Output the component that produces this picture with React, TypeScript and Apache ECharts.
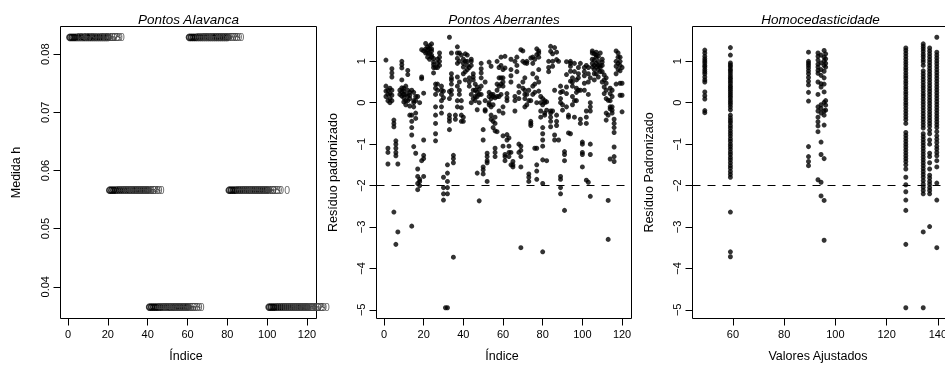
import React, { useEffect, useRef } from "react";
import * as echarts from "echarts";

const FONT = '"Liberation Sans", Arial, Helvetica, sans-serif';

// ---------- Panel 1: Pontos Alavanca (leverage h by observation index) ----------
const leverageIndex = [
  1, 2, 3, 4, 5, 6, 7, 8, 9, 10, 11, 12, 13, 14, 15, 16, 17, 18, 19, 20,
  21, 22, 23, 24, 25, 26, 27, 28, 29, 30, 31, 32, 33, 34, 35, 36, 37, 38, 39, 40,
  41, 42, 43, 44, 45, 46, 47, 48, 49, 50, 51, 52, 53, 54, 55, 56, 57, 58, 59, 60,
  61, 62, 63, 64, 65, 66, 67, 68, 69, 70, 71, 72, 73, 74, 75, 76, 77, 78, 79, 80,
  81, 82, 83, 84, 85, 86, 87, 88, 89, 90, 91, 92, 93, 94, 95, 96, 97, 98, 99, 100,
  101, 102, 103, 104, 105, 106, 107, 108, 109, 110, 111, 112, 113, 114, 115, 116, 117, 118, 119, 120,
];
const leverageH = [
  0.0829, 0.0829, 0.0829, 0.0829, 0.0829, 0.0829, 0.0829, 0.0829, 0.0829, 0.0829, 0.0829, 0.0829, 0.0829, 0.0829, 0.0829, 0.0829, 0.0829, 0.0829, 0.0829, 0.0829,
  0.0566, 0.0566, 0.0566, 0.0566, 0.0566, 0.0566, 0.0566, 0.0566, 0.0566, 0.0566, 0.0566, 0.0566, 0.0566, 0.0566, 0.0566, 0.0566, 0.0566, 0.0566, 0.0566, 0.0566,
  0.0365, 0.0365, 0.0365, 0.0365, 0.0365, 0.0365, 0.0365, 0.0365, 0.0365, 0.0365, 0.0365, 0.0365, 0.0365, 0.0365, 0.0365, 0.0365, 0.0365, 0.0365, 0.0365, 0.0365,
  0.0829, 0.0829, 0.0829, 0.0829, 0.0829, 0.0829, 0.0829, 0.0829, 0.0829, 0.0829, 0.0829, 0.0829, 0.0829, 0.0829, 0.0829, 0.0829, 0.0829, 0.0829, 0.0829, 0.0829,
  0.0566, 0.0566, 0.0566, 0.0566, 0.0566, 0.0566, 0.0566, 0.0566, 0.0566, 0.0566, 0.0566, 0.0566, 0.0566, 0.0566, 0.0566, 0.0566, 0.0566, 0.0566, 0.0566, 0.0566,
  0.0365, 0.0365, 0.0365, 0.0365, 0.0365, 0.0365, 0.0365, 0.0365, 0.0365, 0.0365, 0.0365, 0.0365, 0.0365, 0.0365, 0.0365, 0.0365, 0.0365, 0.0365, 0.0365, 0.0365,
];
const leverageXTicks = [0, 20, 40, 60, 80, 100, 120];
const leverageYTicks = [0.04, 0.05, 0.06, 0.07, 0.08];

// ---------- Panel 2: Pontos Aberrantes (standardized residual by index) ----------
const residIdxA = [
  [1, 1.03], [1, 0.4], [1, 0.28], [1, 0.15], [2, 0.05], [2, 0.3], [2, 0.2], [2, -1.1], [2, -1.2], [2, -1.48],
  [3, 0.1], [3, 0.22], [3, 0.35], [3, 0.0], [4, 0.82], [4, 0.72], [4, 0.62], [4, 0.3], [4, 0.18], [4, 0.05],
  [5, -0.42], [5, -0.5], [5, -0.58], [5, -2.64],
  [6, -0.92], [6, -1.0], [6, -1.1], [6, -1.2], [6, -1.28], [6, -3.42],
  [7, -1.48], [7, -3.12], [8, 0.2], [8, 0.3],
  [9, 1.0], [9, 0.92], [9, 0.84], [9, 0.36], [9, 0.26], [9, 0.16], [9, 0.55],
  [10, 0.28], [10, 0.12], [10, 0.02], [10, 0.35], [10, 0.2], [11, 0.4], [11, 0.2], [11, 0.05], [11, -0.05],
  [12, 0.78], [12, 0.68], [12, 0.3], [12, 0.16], [12, 0.05],
  [13, -0.08], [13, -0.3], [13, 0.25], [13, 0.1], [13, 0.18],
  [14, -0.6], [14, -0.78], [14, -0.45], [14, -2.98], [14, 0.3], [14, -0.3],
  [15, -1.06], [15, 0.25], [15, 0.05], [15, -0.1], [15, 0.0],
  [16, 0.05], [16, -0.25], [16, -0.38], [16, -1.22], [16, 0.15],
  [17, -1.6], [17, -1.78], [17, -1.95], [17, -2.1], [17, 0.15],
  [18, -1.9], [18, -2.0], [18, -1.85], [18, 0.0],
  [19, -1.4], [19, 0.62], [19, 1.28], [19, 0.58],
  [20, 0.23], [20, -0.9], [20, -1.27], [20, -1.35], [20, -1.78], [20, 1.25],
  [21, 1.43], [21, 1.3], [21, 1.2], [22, 1.35], [22, 1.1], [22, 1.2], [22, 1.28], [23, 1.3], [23, 1.19], [23, 1.05], [23, 1.38],
  [24, 1.42], [24, 1.1], [24, 1.25], [24, 1.15], [24, 1.3],
  [25, 1.07], [25, 0.98], [25, 0.85], [25, 0.72], [25, 0.92],
  [26, -0.1], [26, -0.3], [26, -0.5], [26, -0.75], [26, -0.92], [26, 0.85], [26, 0.45], [26, 0.35], [26, 0.2],
  [27, 0.95], [27, 0.85], [27, 0.45], [27, 0.3], [27, 1.05],
  [28, 1.2], [28, 1.1], [28, 1.0], [28, 0.9],
  [29, 0.4], [29, 0.2], [29, 0.05], [29, -0.25], [29, 0.3], [29, -0.1],
  [30, -1.8], [30, -2.05], [30, -2.2], [30, -2.35], [30, 0.28], [30, 0.12],
];
const residIdxB = [
  [31, -4.95], [32, -4.95],
  [32, -1.5], [32, -1.7], [32, -1.9], [32, -2.2], [32, -2.05],
  [33, 1.58], [33, -0.3], [33, -0.45], [33, -0.65], [33, -0.38], [33, 0.27], [33, 0.1],
  [34, 1.2], [34, 0.7], [34, 0.55], [34, 0.45], [34, 0.3], [34, 0.2], [34, 0.6],
  [35, -1.27], [35, -1.35], [35, -1.45], [35, -3.73],
  [36, -0.4], [36, -0.3], [37, 1.35], [37, 1.2], [37, 1.07], [37, 0.62], [37, 0.4], [37, 0.05], [37, -0.1], [37, 0.95],
  [38, 0.5], [38, 0.3], [38, 0.2], [38, 1.2], [38, 1.0], [39, 0.05], [39, -0.12], [39, 1.15], [39, -0.3], [39, -0.45],
  [40, 0.86], [40, 0.7], [40, -0.35], [40, -0.45], [40, 1.05], [40, 0.95],
  [41, 1.18], [41, 1.0], [41, 0.75], [41, 0.55],
  [42, 1.0], [42, 0.8], [42, 1.15], [42, 0.9],
  [43, 0.6], [43, 0.4], [43, 0.5], [43, 0.85],
  [44, 1.0], [44, 0.9], [44, 0.2], [44, 0.0], [44, 1.05],
  [45, 0.7], [45, 0.55], [45, 0.62], [45, 0.3], [45, 0.1],
  [46, 0.45], [46, 0.15], [46, 0.3], [46, 0.05],
  [47, 0.38], [47, 0.15], [47, -1.7], [47, 0.25], [47, -0.17],
  [48, 0.2], [48, 0.0], [48, -2.37], [48, 0.32],
  [49, 0.95], [49, 0.72], [49, 0.4], [49, 0.2], [49, 0.82], [49, 0.6],
  [50, -0.65], [50, -0.9], [50, -1.55], [50, -1.72], [50, -1.62],
  [51, -0.2], [51, 0.5], [51, 0.05], [51, -0.17],
  [52, -1.22], [52, -1.45], [52, -1.9], [52, -1.3], [52, -1.4],
  [53, 0.98], [53, 0.15], [53, 0.0], [53, -0.05], [53, 0.25],
  [54, 0.88], [54, -0.1], [54, -0.4], [54, -0.3], [54, 0.1], [54, 0.2],
  [55, 0.15], [55, -0.6], [55, 0.2], [55, -0.05], [55, -0.45],
  [56, -0.35], [56, -1.1], [56, -1.3], [56, -1.2], [56, 0.12], [56, -0.5], [56, -0.68],
  [57, 0.15], [57, 0.45], [57, 0.3], [57, -0.7], [57, 1.0],
  [58, 0.6], [58, 0.15], [58, -0.2], [58, 0.4], [58, 0.85],
  [59, 1.1], [59, 0.9], [59, 0.2], [59, 0.6], [59, 0.45],
  [60, 0.8], [60, 0.6], [60, 0.4], [60, -0.8], [60, -1.05], [60, 0.5], [60, -0.1], [60, -0.25],
];
const residIdxC = [
  [61, -1.25], [61, -1.4], [61, -1.3], [61, 1.12], [61, 0.84],
  [62, 0.22], [62, 0.05], [62, 0.12], [62, -0.77], [62, -0.9],
  [63, -1.05], [63, -1.3], [63, -0.85], [63, -1.2],
  [64, 1.05], [64, 0.8], [64, 0.5], [64, 0.65], [64, -1.2], [64, -1.5],
  [65, -1.42], [65, -1.55], [65, -1.5],
  [66, 0.15], [66, -0.2], [66, 0.05], [66, 1.0],
  [67, 1.1], [67, 0.9], [67, 0.75],
  [68, 0.4], [68, 0.1], [68, 0.25], [68, -1.0], [68, -1.2],
  [69, -1.05], [69, -1.3], [69, -1.55], [69, -1.15], [69, -3.5], [69, 1.28],
  [70, 1.25], [70, 1.0], [70, 0.5], [70, 0.35],
  [71, 0.6], [71, 0.3], [71, 0.1], [71, -0.1], [71, 0.2], [71, 0.96],
  [72, 1.0], [72, 0.95], [72, 0.2], [72, -0.05],
  [73, 0.3], [73, 0.05], [73, -1.72], [73, -1.9], [73, -1.8],
  [74, -0.45], [74, -0.5], [74, -0.55], [74, 1.08], [74, 0.05],
  [75, 0.7], [75, 0.4], [75, 0.2], [75, 1.1], [75, 0.95],
  [76, 0.45], [76, 0.25], [76, 1.05], [76, -1.1],
  [77, 0.0], [77, -1.1], [77, -1.5], [77, -1.65], [77, -1.85], [77, 1.3], [77, 1.16], [77, 0.6],
  [78, 1.25], [78, 1.1], [78, 1.2], [78, 0.8], [78, 0.5], [78, 0.28],
  [79, 0.15], [79, 0.0], [79, -0.2], [79, -0.35],
  [80, -1.95], [80, -0.6], [80, -0.9], [80, -1.05], [80, -3.6], [80, -0.75], [80, 0.1], [80, -0.05], [80, -1.38],
  [81, 0.05], [81, -0.25], [81, -0.3], [81, 0.0],
  [82, -1.4], [82, -0.18], [82, 0.02],
  [83, 1.0], [83, 0.75], [83, 0.85],
  [84, -0.2], [84, -0.35], [84, -0.58], [84, -0.25], [84, 1.36], [84, 1.24], [84, -0.45],
  [85, 1.18], [85, 0.88], [85, 1.0], [85, -0.2],
  [86, 1.33], [86, 0.3], [86, -0.78], [86, -0.9],
  [87, 1.22], [87, -0.3], [87, -0.55], [87, -0.45], [87, 1.04],
  [88, 1.0], [88, -0.9],
  [89, 0.4], [89, 0.1], [89, 0.25], [89, -1.78], [89, -2.05], [89, -2.2], [89, -1.85], [89, 0.0],
  [90, -0.18], [90, -0.05], [90, 0.27],
];
const residIdxD = [
  [91, -1.18], [91, -1.4], [91, -2.6], [91, -1.25],
  [92, 0.22], [92, -0.1], [92, 0.38], [92, 0.99], [92, 0.68],
  [93, -0.35], [93, -0.3], [93, -0.73],
  [94, 1.0], [94, 0.88], [94, 0.95], [94, -0.75], [94, 0.76], [94, 0.52],
  [95, 0.6], [95, 0.4], [95, 0.5], [95, 0.15], [95, -0.05],
  [96, 0.95], [96, -0.35], [96, 0.05], [96, 0.75],
  [97, 0.55], [97, 0.25], [97, 0.35], [97, 0.05],
  [98, 0.85], [98, 0.6], [98, 0.7], [98, 0.3],
  [99, 0.95], [99, -0.5], [99, -0.4], [99, 0.3],
  [100, -1.0], [100, -1.2], [100, -1.25], [100, -1.55], [100, -0.95],
  [101, 0.85], [101, 0.65], [101, 0.47], [101, 0.75], [101, 0.3],
  [102, -1.87], [102, -0.2], [102, -0.5], [102, -0.35], [102, 0.9],
  [103, 0.85], [103, 0.7], [103, 0.5], [103, -1.92], [103, 0.2],
  [104, -1.0], [104, -1.25], [104, -2.26], [104, 0.0], [104, -0.2], [104, -0.1], [104, 0.6],
  [105, 1.25], [105, 1.05], [105, 0.86], [105, 1.2], [105, 0.95],
  [106, 0.7], [106, 0.55], [106, 1.18], [106, 1.03], [106, 0.8], [106, 0.9],
  [107, 0.86], [107, 0.7], [107, 1.1], [107, 0.95], [107, 1.15], [107, 1.22],
  [108, 0.8], [108, 0.62], [108, 0.9], [108, 1.0], [108, 1.12],
  [109, 0.9], [109, 0.75], [109, 0.85], [109, 1.2],
  [110, 0.98], [110, 0.75], [110, 0.9], [110, 0.5], [110, 1.05],
  [111, 0.55], [111, 0.38], [111, 0.22], [111, 0.67],
  [112, -0.25], [112, -0.42], [112, 0.47], [112, 0.1], [112, 0.3], [112, 0.6],
  [113, -2.36], [113, -3.3], [113, -0.3], [113, 0.06],
  [114, 0.22], [114, -0.15], [114, 0.35], [114, 0.05], [114, -1.36], [114, -0.1],
  [115, 0.15], [115, -0.1], [115, -0.18], [115, 0.3], [115, -0.25],
  [116, -1.07], [116, -1.3], [116, -1.42], [116, -0.4], [116, -0.6], [116, -0.72], [116, -0.5],
  [117, 1.25], [117, 1.0], [117, 0.88], [117, 0.7], [117, 0.45],
  [118, 0.8], [118, 0.95], [118, 1.2], [118, 1.1],
  [119, 1.1], [119, 0.47], [119, 0.18], [119, 0.9], [119, 1.0], [119, 0.77],
  [120, -0.22], [120, 0.47], [120, 0.18], [120, 0.85],
];
const residXTicks = [0, 20, 40, 60, 80, 100, 120];
const residYTicks = [-5, -4, -3, -2, -1, 0, 1];

// ---------- Panel 3: Homocedasticidade (standardized residual by fitted value) ----------
const fittedLevels = [49, 59, 89.5, 93.2, 94.4, 95.6, 96.2, 127.5, 134.3, 136.8, 139.6];
const residAt49 = [1.27, 1.2, 1.12, 1.06, 1.01, 0.96, 0.9, 0.86, 0.8, 0.75, 0.7, 0.62, 0.55, 0.5, 0.26, 0.17, 0.09, -0.19, -0.24];
const residAt59 = [1.33, 1.15, 0.96, 0.91, 0.87, 0.81, 0.77, 0.72, 0.66, 0.61, 0.57, 0.52, 0.47, 0.41, 0.37, 0.32, 0.27, 0.22, 0.17, 0.12, 0.06, 0.01, -0.04, -0.1, -0.17, -0.3, -0.37, -0.43, -0.48, -0.55, -0.61, -0.68, -0.74, -0.8, -0.87, -0.93, -1.0, -1.06, -1.12, -1.19, -1.25, -1.32, -1.38, -1.45, -1.52, -1.58, -1.66, -1.73, -1.8, -2.64, -3.6, -3.72];
const residAt89 = [1.22, 1.0, 0.95, 0.9, 0.84, 0.77, 0.7, 0.61, 0.52, 0.43, 0.25, 0.04, -1.06, -1.3, -1.42, -1.52];
const residAt93 = [1.2, 1.12, 1.03, 0.93, 0.86, 0.78, 0.71, 0.5, 0.2, -0.1, -0.2, -0.35, -0.46, -0.56, -0.7, -1.86];
const residAt94 = [1.15, 0.96, 0.8, 0.66, 0.46, 0.38, -0.05, -0.14, -0.25, -0.95, -1.25, -1.92, -2.25];
const residAt95 = [1.26, 1.1, 1.01, 0.9, 0.76, 0.6, 0.45, 0.26, 0.01, -0.2, -0.3, -0.54, -1.35, -2.36, -3.32];
const residAt96 = [1.18, 1.06, 0.95, 0.86, 0.05, -0.06, -0.18];
const residAt127 = [1.32, 1.26, 1.19, 1.12, 1.05, 0.98, 0.92, 0.85, 0.79, 0.72, 0.65, 0.59, 0.52, 0.46, 0.39, 0.33, 0.26, 0.2, 0.13, 0.07, 0.0, -0.06, -0.13, -0.2, -0.27, -0.34, -0.41, -0.5, -0.72, -0.79, -0.86, -0.93, -1.0, -1.07, -1.14, -1.21, -1.28, -1.35, -1.42, -1.5, -1.6, -1.8, -1.98, -2.15, -2.35, -2.6, -3.42, -4.95];
const residAt134 = [1.42, 1.36, 1.3, 1.24, 1.17, 1.11, 1.04, 0.98, 0.9, 0.77, 0.7, 0.63, 0.56, 0.49, 0.42, 0.36, 0.29, 0.22, 0.16, 0.09, 0.02, -0.05, -0.12, -0.19, -0.26, -0.33, -0.4, -0.47, -0.54, -0.61, -0.75, -0.82, -0.89, -0.96, -1.03, -1.1, -1.17, -1.24, -1.31, -1.38, -1.45, -1.52, -1.59, -1.66, -1.73, -1.8, -1.88, -1.96, -2.04, -2.12, -2.2, -3.12, -4.95];
const residAt137 = [1.32, 1.25, 1.18, 1.11, 1.04, 0.97, 0.9, 0.83, 0.76, 0.69, 0.62, 0.55, 0.48, 0.41, 0.34, 0.27, 0.2, 0.13, 0.06, -0.01, -0.08, -0.15, -0.22, -0.29, -0.36, -0.43, -0.5, -0.57, -0.66, -0.75, -0.9, -1.0, -1.22, -1.3, -1.45, -1.6, -1.75, -1.82, -1.9, -1.97, -2.05, -2.12, -2.2, -2.99];
const residAt140 = [1.58, 1.22, 1.15, 1.08, 1.01, 0.94, 0.87, 0.8, 0.73, 0.66, 0.59, 0.52, 0.45, 0.38, 0.31, 0.24, 0.17, 0.1, 0.03, -0.04, -0.11, -0.18, -0.25, -0.32, -0.39, -0.46, -0.53, -0.6, -0.7, -0.8, -0.88, -0.96, -1.05, -1.12, -1.2, -1.28, -1.4, -1.55, -1.94, -2.35, -3.5];
const residByFitted = [residAt49, residAt59, residAt89, residAt93, residAt94, residAt95, residAt96, residAt127, residAt134, residAt137, residAt140];
const fittedXTicks = [60, 80, 100, 120, 140];

const minusFmt = (v: number) => (v < 0 ? "\u2212" + Math.abs(v) : String(v));

function buildOption() {
  const gridTop = 26.5;
  const gridH = 292;
  const grids = [
    { left: 60.5, top: gridTop, width: 256, height: gridH },
    { left: 376.5, top: gridTop, width: 255, height: gridH },
    { left: 692.5, top: gridTop, width: 256, height: gridH },
  ];
  const tickStyle = { color: "#000", width: 1 };
  const xAxisBase = (i: number, min: number, max: number, ticks: number[]) => ({
    type: "value",
    gridIndex: i,
    min,
    max,
    axisLine: { show: false, onZero: false },
    axisTick: { show: true, length: 7, customValues: ticks, lineStyle: tickStyle },
    axisLabel: { customValues: ticks, color: "#000", fontSize: 11, fontFamily: FONT, margin: 10 },
    splitLine: { show: false },
  });
  const yAxisBase = (i: number, min: number, max: number, ticks: number[], fmt: (v: number) => string) => ({
    type: "value",
    gridIndex: i,
    min,
    max,
    axisLine: { show: false, onZero: false },
    axisTick: { show: true, length: 7, customValues: ticks, lineStyle: tickStyle },
    axisLabel: { customValues: ticks, color: "#000", fontSize: 11, fontFamily: FONT, margin: 10, rotate: 90, formatter: fmt },
    splitLine: { show: false },
  });

  const dashLine = {
    silent: true,
    symbol: ["none", "none"],
    label: { show: false },
    lineStyle: { color: "#000", width: 1, type: [8, 7] },
    data: [{ yAxis: -2 }],
  };

  const resIdxData = [...residIdxA, ...residIdxB, ...residIdxC, ...residIdxD];
  const resFitData: number[][] = [];
  fittedLevels.forEach((f, k) => residByFitted[k].forEach((r) => resFitData.push([f, r])));

  const titleStyle = (text: string, x: number) => ({
    type: "text",
    x,
    y: 26,
    silent: true,
    style: { text, fill: "#000", font: `italic 13.5px ${FONT}`, textAlign: "center", textVerticalAlign: "bottom", verticalAlign: "bottom" },
  });
  const xName = (text: string, x: number) => ({
    type: "text",
    x,
    y: 356,
    silent: true,
    style: { text, fill: "#000", font: `12.5px ${FONT}`, textAlign: "center", textVerticalAlign: "middle", verticalAlign: "middle" },
  });
  const yName = (text: string, x: number) => ({
    type: "text",
    x,
    y: 172.5,
    rotation: Math.PI / 2,
    silent: true,
    style: { text, fill: "#000", font: `12.5px ${FONT}`, textAlign: "center", textVerticalAlign: "middle", verticalAlign: "middle" },
  });

  return {
    animation: false,
    backgroundColor: "#fff",
    color: ["#000"],
    grid: grids.map((g) => ({ ...g, show: true, borderColor: "#000", borderWidth: 1, backgroundColor: "transparent" })),
    xAxis: [
      xAxisBase(0, -3.76, 124.76, leverageXTicks),
      xAxisBase(1, -3.76, 124.76, residXTicks),
      xAxisBase(2, 44.2, 143.3, fittedXTicks),
    ],
    yAxis: [
      yAxisBase(0, 0.03454, 0.08476, leverageYTicks, (v: number) => v.toFixed(2)),
      yAxisBase(1, -5.21, 1.84, residYTicks, minusFmt),
      yAxisBase(2, -5.21, 1.84, residYTicks, minusFmt),
    ],
    series: [
      {
        type: "scatter",
        xAxisIndex: 0,
        yAxisIndex: 0,
        silent: true,
        data: leverageIndex.map((x, i) => [x, leverageH[i]]),
        symbol: "circle",
        symbolSize: 6,
        itemStyle: { color: "rgba(0,0,0,0)", borderColor: "#000", borderWidth: 1.7 },
        label: {
          show: true,
          position: "right",
          distance: 1.5,
          fontSize: 10.5,
          fontFamily: FONT,
          color: "#444",
          textBorderWidth: 0,
          textBorderColor: "transparent",
          formatter: (p: any) => String(p.value[0]),
        },
      },
      {
        type: "scatter",
        xAxisIndex: 1,
        yAxisIndex: 1,
        silent: true,
        data: resIdxData,
        symbol: "circle",
        symbolSize: 5,
        itemStyle: { color: "#000" },
        markLine: dashLine,
      },
      {
        type: "scatter",
        xAxisIndex: 2,
        yAxisIndex: 2,
        silent: true,
        data: resFitData,
        symbol: "circle",
        symbolSize: 5,
        itemStyle: { color: "#000" },
        markLine: dashLine,
      },
    ],
    graphic: [
      titleStyle("Pontos Alavanca", 188.5),
      titleStyle("Pontos Aberrantes", 504),
      titleStyle("Homocedasticidade", 820.5),
      xName("Índice", 186),
      xName("Índice", 502),
      xName("Valores Ajustados", 818),
      yName("Medida h", 15.5),
      yName("Resíduo padronizado", 333),
      yName("Resíduo Padronizado", 649),
    ],
  };
}

export default function App() {
  const ref = useRef<HTMLDivElement>(null);
  useEffect(() => {
    if (!ref.current) return;
    const chart = echarts.init(ref.current, undefined, { renderer: "svg" });
    chart.setOption(buildOption() as any);
    return () => chart.dispose();
  }, []);
  return (
    <div
      ref={ref}
      style={{
        position: "fixed",
        left: 0,
        top: 0,
        width: 950,
        height: 365,
        background: "#fff",
        filter: "grayscale(1)",
      }}
    />
  );
}
